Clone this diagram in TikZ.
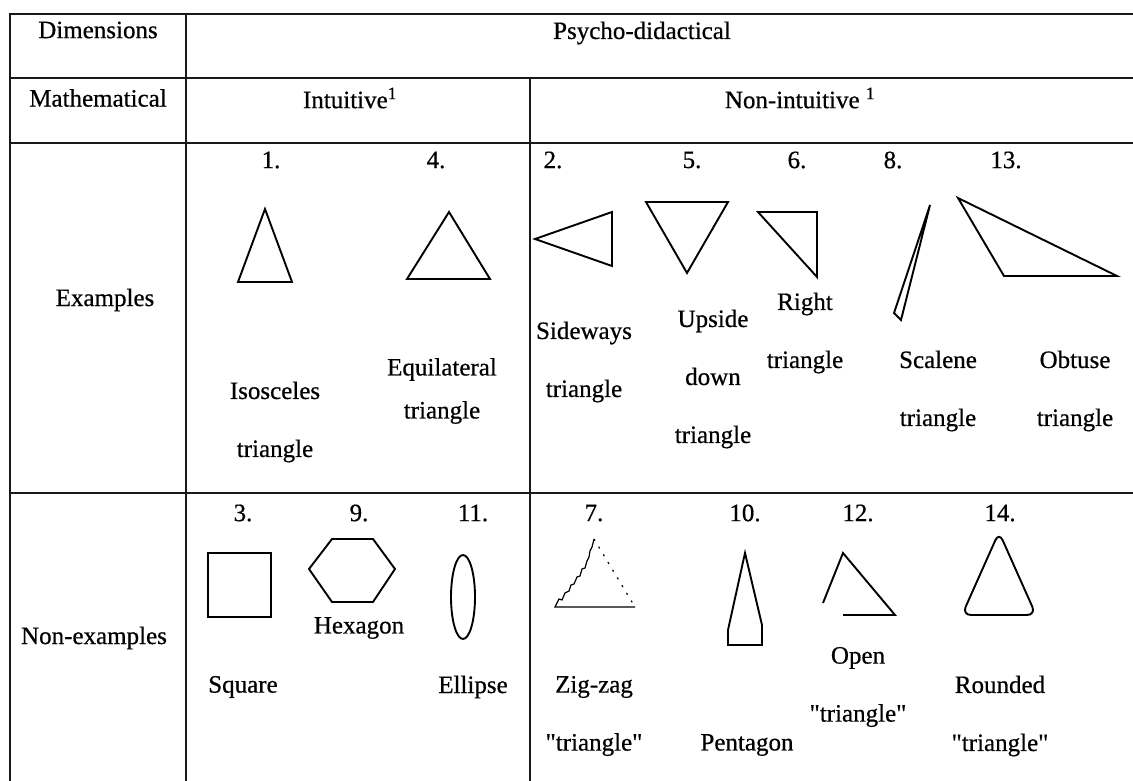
\documentclass[tikz,border=0pt]{standalone}
\usepackage{fontspec}
\setmainfont{Liberation Serif}[FakeBold=0.6]
\newcommand\qt[1]{\textquotedbl#1\textquotedbl}
\tikzset{
  rule/.style={line width=1.7pt,draw=black!90},
  lbl/.style={inner sep=0pt,font=\fontsize{25}{30}\selectfont},
  lbltwo/.style={inner sep=0pt,align=center,font=\fontsize{25}{58}\selectfont},
  lbltight/.style={inner sep=0pt,align=center,font=\fontsize{25}{43}\selectfont},
  num/.style={lbl},
  fig/.style={line width=1.9pt,line join=miter},
  rough/.style={line width=1.2pt},
}
\begin{document}
\begin{tikzpicture}[x=1pt,y=-1pt]
    \useasboundingbox (0,0) rectangle (1133,781);
    % table rules
    \draw[rule] (1133,14) -- (10,14) -- (10,781);
    \draw[rule] (10,78) -- (1133,78);
    \draw[rule] (10,143) -- (1133,143);
    \draw[rule] (10,493) -- (1133,493);
    \draw[rule] (186,14) -- (186,781);
    \draw[rule] (530,78) -- (530,781);
    % headers
    \node[lbl] (dim) at (98,30) {Dimensions};
    \node[lbl] (psy) at (642,33) {Psycho-didactical};
    \node[lbl] (math) at (98,98) {Mathematical};
    \node[lbl] (intu) at (350,98) {Intuitive\textsuperscript{1}};
    \node[lbl] (nonintu) at (800,98) {Non-intuitive \textsuperscript{1}};
    \node[lbl] (ex) at (105,300) {Examples};
    \node[lbl] (nonex) at (94,638) {Non-examples};
    % examples
    \node[num] (n1) at (271,160) {1.};
    \node[num] (n4) at (436,160) {4.};
    \node[num] (n2) at (553,160) {2.};
    \node[num] (n5) at (692,160) {5.};
    \node[num] (n6) at (797,160) {6.};
    \node[num] (n8) at (893,160) {8.};
    \node[num] (n13) at (1006,160) {13.};
    \draw[fig] (265,209) -- (292,282) -- (238,282) -- cycle;
    \draw[fig] (449,212) -- (490,279) -- (407,279) -- cycle;
    \draw[fig] (535,239) -- (612,212) -- (612,266) -- cycle;
    \draw[fig] (646,202) -- (728,202) -- (687,273) -- cycle;
    \draw[fig] (758,212) -- (817,212) -- (817,277) -- cycle;
    \draw[fig] (930,205) -- (901,320) -- (894,313) -- cycle;
    \draw[fig] (958,198) -- (1117,276) -- (1004,276) -- cycle;
    \node[lbltwo] (isos) at (275,422) {Isosceles\\triangle};
    \node[lbltight] (equi) at (442,391) {Equilateral\\triangle};
    \node[lbltwo] (side) at (584,362) {Sideways\\triangle};
    \node[lbltwo] (upside) at (713,379) {Upside\\down\\triangle};
    \node[lbltwo] (right) at (805,333) {Right\\triangle};
    \node[lbltwo] (scal) at (938,391) {Scalene\\triangle};
    \node[lbltwo] (obtu) at (1075,391) {Obtuse\\triangle};
    % non-examples
    \node[num] (n3) at (243,513) {3.};
    \node[num] (n9) at (359,513) {9.};
    \node[num] (n11) at (473,513) {11.};
    \node[num] (n7) at (594,513) {7.};
    \node[num] (n10) at (745,513) {10.};
    \node[num] (n12) at (858,513) {12.};
    \node[num] (n14) at (1000,513) {14.};
    \draw[fig] (208,553) rectangle (271,617);
    \draw[fig] (309,569) -- (332,539) -- (373,539) -- (395,569) -- (373,602) -- (332,602) -- cycle;
    \draw[fig] (463,597) ellipse [x radius=12,y radius=42];
    \draw[rough] (635,607) -- (555,607) -- (559,599) -- (562,600) -- (565,593) -- (569,591) -- (571,585)
      -- (574,584) -- (577,577) -- (580,576) -- (582,569) -- (585,568) -- (587,561) -- (589,557)
      -- (590,551) -- (592,547) -- (594,539);
    \draw[rough,dash pattern=on 2pt off 7pt] (594,539) -- (635,607);
    \draw[fig] (745,553) -- (762,625) -- (762,645) -- (728,645) -- (728,630) -- cycle;
    \draw[fig] (823,603) -- (843,553) -- (895,615) -- (843,615);
    \draw[fig,rounded corners=9pt] (999,615) -- (962,615) -- (999,532) -- (1036,615) -- cycle;
    \node[lbl] (hexa) at (359,628) {Hexagon};
    \node[lbl] (squa) at (243,687) {Square};
    \node[lbl] (elli) at (473,687) {Ellipse};
    \node[lbltwo] (zig) at (594,716) {Zig-zag\\\qt{triangle}};
    \node[lbl] (penta) at (747,745) {Pentagon};
    \node[lbltwo] (open) at (858,687) {Open\\\qt{triangle}};
    \node[lbltwo] (round) at (1000,716) {Rounded\\\qt{triangle}};
\end{tikzpicture}
\end{document}
